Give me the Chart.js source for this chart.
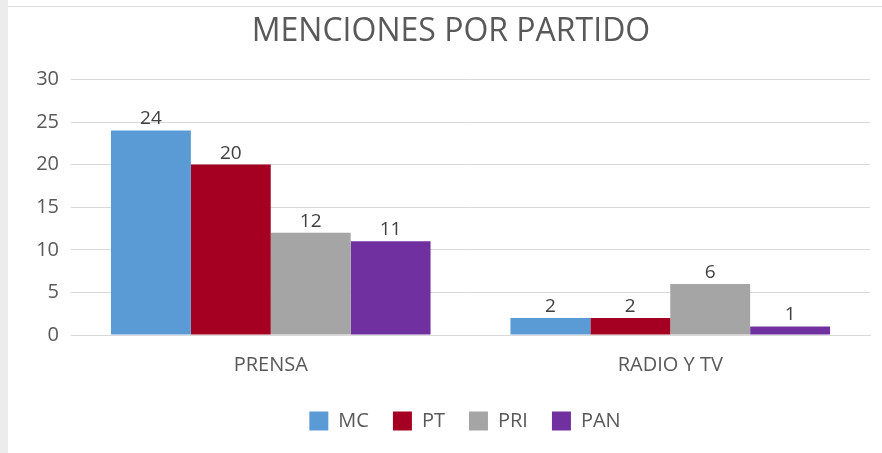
<!DOCTYPE html>
<html>
<head>
<meta charset="utf-8">
<script src="https://cdn.jsdelivr.net/npm/chart.js@4/dist/chart.umd.min.js"></script>
<style>
  html, body { margin: 0; padding: 0; background: #fff; }
  body { width: 882px; height: 453px; position: relative; overflow: hidden; }
  .edge-left { position: absolute; left: 0; top: 0; width: 8px; height: 453px; background: #ececec; }
  .edge-top { position: absolute; left: 8px; top: 6px; width: 874px; height: 1px; background: #dcdcdc; }
  .wrap { position: absolute; left: 8px; top: 7px; width: 874px; height: 446px; }
</style>
</head>
<body>
<div class="edge-left"></div>
<div class="edge-top"></div>
<div class="wrap"><canvas id="chart"></canvas></div>
<script>
const categories = ["PRENSA", "RADIO Y TV"];
const parties = ["MC", "PT", "PRI", "PAN"];
const mcValues = [24, 2];
const ptValues = [20, 2];
const priValues = [12, 6];
const panValues = [11, 1];
const yTicks = [0, 5, 10, 15, 20, 25, 30];

const colors = ["#5b9bd5", "#a50021", "#a5a5a5", "#7030a0"];
const FONT = "'Open Sans', sans-serif";
const TEXT = "#595959";

// draw the value above each bar
const barLabels = {
  id: "barLabels",
  afterDatasetsDraw(chart) {
    const ctx = chart.ctx;
    ctx.save();
    ctx.font = "19px " + FONT;
    ctx.fillStyle = "#404040";
    ctx.textAlign = "center";
    ctx.textBaseline = "bottom";
    chart.data.datasets.forEach((ds, i) => {
      chart.getDatasetMeta(i).data.forEach((bar, j) => {
        ctx.fillText(String(ds.data[j]), bar.x, bar.y - 2);
      });
    });
    ctx.restore();
  },
};

// title and legend sit a bit right of the canvas centre in the original
const nudge = {
  id: "nudge",
  afterLayout(chart) {
    const t = chart.titleBlock;
    if (t) { t.left += 12; t.right += 12; }
    const l = chart.legend;
    if (l) { l.left += 26; l.right += 26; }
  },
};

new Chart(document.getElementById("chart"), {
  type: "bar",
  data: {
    labels: categories,
    datasets: [mcValues, ptValues, priValues, panValues].map((data, i) => ({
      label: parties[i],
      data,
      backgroundColor: colors[i],
      categoryPercentage: 0.8,
      barPercentage: 1.0,
    })),
  },
  options: {
    responsive: true,
    maintainAspectRatio: false,
    animation: false,
    layout: { padding: { top: 0, right: 12, bottom: 12, left: 0 } },
    plugins: {
      title: {
        display: true,
        text: "MENCIONES POR PARTIDO",
        color: TEXT,
        font: { family: FONT, size: 32, weight: "normal" },
        padding: { top: 6, bottom: 28 },
      },
      legend: {
        position: "bottom",
        labels: {
          color: TEXT,
          font: { family: FONT, size: 20 },
          boxWidth: 19,
          boxHeight: 19,
          padding: 24,
        },
      },
      tooltip: { enabled: false },
    },
    scales: {
      x: {
        grid: { display: false },
        border: { display: true, color: "#d9d9d9" },
        ticks: { color: TEXT, font: { family: FONT, size: 20 }, padding: 10 },
      },
      y: {
        min: 0,
        max: 30,
        afterBuildTicks(scale) {
          scale.ticks = yTicks.map((v) => ({ value: v }));
        },
        afterFit(scale) {
          scale.width = 63;
        },
        grid: { color: "#d9d9d9", drawTicks: false },
        border: { display: false },
        ticks: { color: TEXT, font: { family: FONT, size: 20 }, padding: 12 },
      },
    },
  },
  plugins: [barLabels, nudge],
});
</script>
</body>
</html>
